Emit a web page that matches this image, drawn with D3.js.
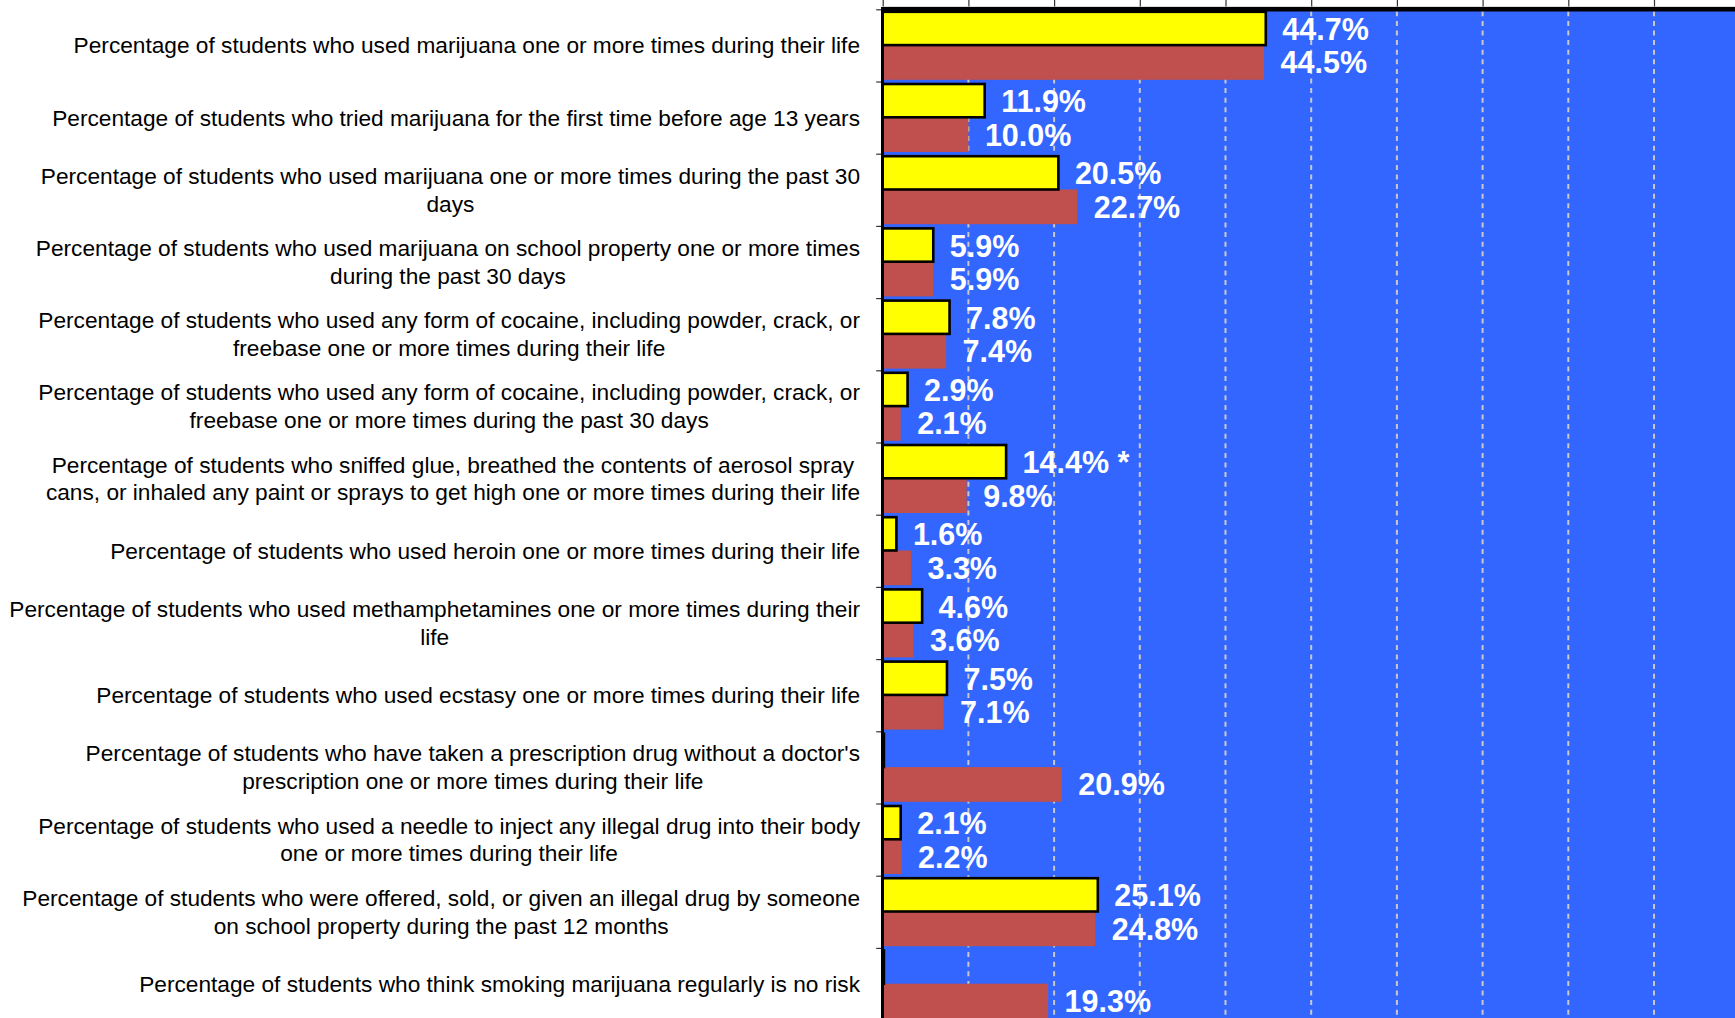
<!DOCTYPE html>
<html>
<head>
<meta charset="utf-8">
<script src="https://cdn.jsdelivr.net/npm/d3@7"></script>
<style>
  html, body { margin: 0; padding: 0; background: #ffffff; overflow: hidden; }
  svg { display: block; }
  text { font-family: "Liberation Sans", Arial, Helvetica, sans-serif; }
</style>
</head>
<body>
<svg id="chart" width="1735" height="1018"></svg>
<script>
const categories = [
  "Percentage of students who used marijuana one or more times during their life",
  "Percentage of students who tried marijuana for the first time before age 13 years",
  "Percentage of students who used marijuana one or more times during the past 30\ndays",
  "Percentage of students who used marijuana on school property one or more times\nduring the past 30 days",
  "Percentage of students who used any form of cocaine, including powder, crack, or\nfreebase one or more times during their life",
  "Percentage of students who used any form of cocaine, including powder, crack, or\nfreebase one or more times during the past 30 days",
  "Percentage of students who sniffed glue, breathed the contents of aerosol spray\ncans, or inhaled any paint or sprays to get high one or more times during their life",
  "Percentage of students who used heroin one or more times during their life",
  "Percentage of students who used methamphetamines one or more times during their\nlife",
  "Percentage of students who used ecstasy one or more times during their life",
  "Percentage of students who have taken a prescription drug without a doctor's\nprescription one or more times during their life",
  "Percentage of students who used a needle to inject any illegal drug into their body\none or more times during their life",
  "Percentage of students who were offered, sold, or given an illegal drug by someone\non school property during the past 12 months",
  "Percentage of students who think smoking marijuana regularly is no risk"
];
// yellow series (null = no value shown)
const seriesYellow = [44.7, 11.9, 20.5, 5.9, 7.8, 2.9, 14.4, 1.6, 4.6, 7.5, null, 2.1, 25.1, null];
// red series
const seriesRed = [44.5, 10.0, 22.7, 5.9, 7.4, 2.1, 9.8, 3.3, 3.6, 7.1, 20.9, 2.2, 24.8, 19.3];
// significance markers appended to yellow labels
const yellowMarks = ["", "", "", "", "", "", " *", "", "", "", "", "", "", ""];
const xTicks = [0, 10, 20, 30, 40, 50, 60, 70, 80, 90, 100];

const svg = d3.select("#chart");
const W = 1735, H = 1018;
const plotLeft = 882.7, plotTop = 9.3;
const bandH = 72.2;

const x = d3.scaleLinear().domain([0, 100]).range([plotLeft, plotLeft + 857]);
const y = d3.scaleBand().domain(d3.range(categories.length))
  .range([plotTop, plotTop + bandH * categories.length]).padding(0);
const yEdge = d3.scaleLinear().domain([0, categories.length])
  .range([plotTop, plotTop + bandH * categories.length]);

// plot background
svg.append("rect")
  .attr("x", plotLeft).attr("y", plotTop)
  .attr("width", W - plotLeft).attr("height", H - plotTop)
  .attr("fill", "#3366FF");

// gridlines
svg.append("g").selectAll("line")
  .data(xTicks.filter(d => d > 0))
  .join("line")
  .attr("x1", d => x(d)).attr("x2", d => x(d))
  .attr("y1", plotTop + 2).attr("y2", H)
  .attr("stroke", "#c8c8c8").attr("stroke-width", 2)
  .attr("stroke-dasharray", "5,4.6");

// top axis ticks
const topAxis = svg.append("g")
  .attr("transform", `translate(0,6.5)`)
  .call(d3.axisTop(x).tickValues(xTicks).tickFormat("").tickSizeInner(6.5).tickSizeOuter(0));
topAxis.select(".domain").attr("stroke", "#bbbbbb").attr("stroke-width", 1);
topAxis.selectAll(".tick line").attr("stroke", "#333333").attr("stroke-width", 1.2);

// left axis ticks at category boundaries
const leftAxis = svg.append("g")
  .attr("transform", `translate(${plotLeft},0)`)
  .call(d3.axisLeft(yEdge).tickValues(d3.range(categories.length + 1)).tickFormat("").tickSizeInner(6.5).tickSizeOuter(0));
leftAxis.select(".domain").remove();
leftAxis.selectAll(".tick line").attr("stroke", "#333333").attr("stroke-width", 1.2);

// red bars
const redY = i => y(i) + 35.8;
const redH = 34.7;
svg.append("g").selectAll("rect")
  .data(seriesRed)
  .join("rect")
  .attr("x", x(0))
  .attr("y", (d, i) => redY(i))
  .attr("width", d => x(d) - x(0))
  .attr("height", redH)
  .attr("fill", "#C0504D");

// yellow bars (zero/missing values still draw their black outline)
const yelY = i => y(i) + 2.5;
const yelH = 33.3;
svg.append("g").selectAll("rect")
  .data(seriesYellow)
  .join("rect")
  .attr("x", x(0))
  .attr("y", (d, i) => yelY(i))
  .attr("width", d => Math.max(x(d || 0) - x(0), 1.2))
  .attr("height", yelH)
  .attr("fill", "#FFFF00")
  .attr("stroke", "#000000")
  .attr("stroke-width", 2.6);

// left axis line and top border
svg.append("line")
  .attr("x1", plotLeft - 0.2).attr("x2", plotLeft - 0.2)
  .attr("y1", plotTop).attr("y2", H)
  .attr("stroke", "#000").attr("stroke-width", 3);
svg.append("line")
  .attr("x1", plotLeft - 1.7).attr("x2", W)
  .attr("y1", plotTop).attr("y2", plotTop)
  .attr("stroke", "#000").attr("stroke-width", 4.6);

// value labels
const valFont = 30.5;
svg.append("g").selectAll("text")
  .data(seriesYellow.map((v, i) => ({ v, i })).filter(d => d.v !== null))
  .join("text")
  .attr("x", d => x(d.v) + 16.5)
  .attr("y", d => yelY(d.i) + yelH / 2 + 11.5)
  .attr("fill", "#ffffff")
  .attr("font-weight", "bold")
  .attr("font-size", valFont)
  .text(d => d.v.toFixed(1) + "%" + yellowMarks[d.i]);

svg.append("g").selectAll("text")
  .data(seriesRed.map((v, i) => ({ v, i })))
  .join("text")
  .attr("x", d => x(d.v) + 16.5)
  .attr("y", d => redY(d.i) + redH / 2 + 11)
  .attr("fill", "#ffffff")
  .attr("font-weight", "bold")
  .attr("font-size", valFont)
  .text(d => d.v.toFixed(1) + "%");

// category labels: block right-aligned, lines centred within block
const labelRight = 860;
const catFont = 22.68;
const lineH = 27.7;
const catG = svg.append("g");
categories.forEach((c, i) => {
  const lines = c.split("\n");
  const cy = y(i) + y.bandwidth() / 2;
  const t = catG.append("text")
    .attr("font-size", catFont)
    .attr("fill", "#000");
  const spans = lines.map((ln, k) =>
    t.append("tspan")
      .attr("x", labelRight)
      .attr("y", cy + (k - (lines.length - 1) / 2) * lineH + catFont * 0.35)
      .attr("text-anchor", "end")
      .text(ln));
  const widths = spans.map(s => s.node().getComputedTextLength());
  const maxW = d3.max(widths);
  spans.forEach(s => s.attr("text-anchor", "middle").attr("x", labelRight - maxW / 2));
});
</script>
</body>
</html>
